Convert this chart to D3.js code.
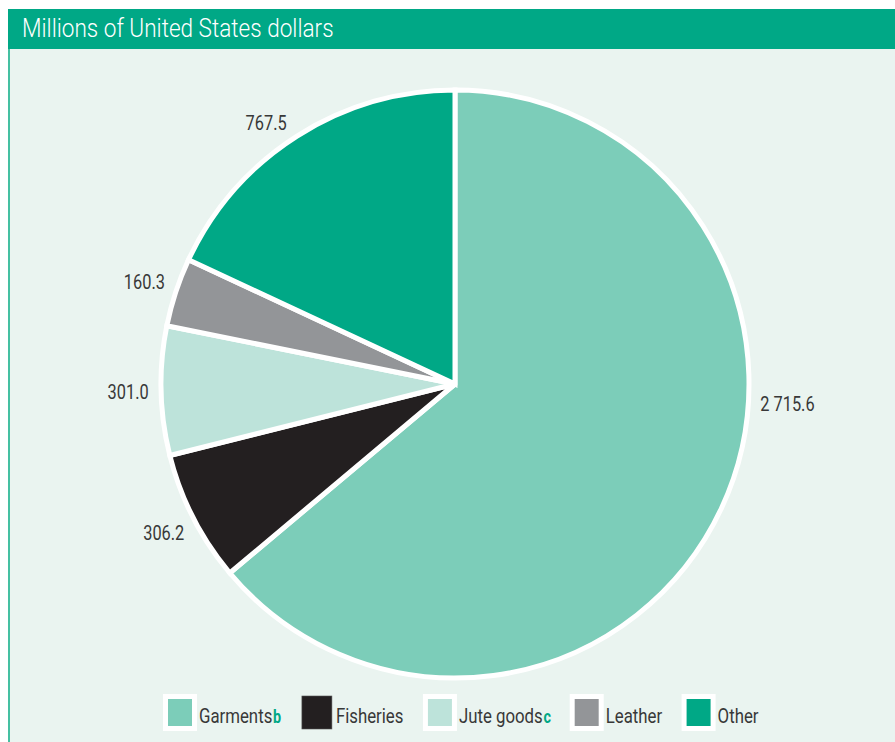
<!DOCTYPE html>
<html>
<head>
<meta charset="utf-8">
<script src="https://cdn.jsdelivr.net/npm/d3@7"></script>
<style>
  html, body { margin: 0; padding: 0; background: #ffffff; }
  svg { display: block; }
  text { font-family: Roboto, "Liberation Sans", sans-serif; }
</style>
</head>
<body>
<svg id="chart" width="895" height="742"></svg>
<script>
// Export values by product group (millions of US dollars)
const categories = ["Garments", "Fisheries", "Jute goods", "Leather", "Other"];
const values = [2715.6, 306.2, 301.0, 160.3, 767.5];
const notes = ["b", "", "c", "", ""];
const colors = ["#7ccdb9", "#231f20", "#bde3da", "#939598", "#00a886"];
const title = "Millions of United States dollars";

const W = 895, H = 742;
const svg = d3.select("#chart");
const textColor = "#383838";
const accent = "#00a886";

// panel background and frame
svg.append("rect").attr("x", 8).attr("y", 9).attr("width", W - 8).attr("height", H - 9)
  .attr("fill", "#eaf4f0");
svg.append("rect").attr("x", 8).attr("y", 49).attr("width", 2).attr("height", H - 49)
  .attr("fill", "#45c0a2");

// title bar
svg.append("rect").attr("x", 8).attr("y", 9).attr("width", W - 8).attr("height", 40)
  .attr("fill", accent);
svg.append("g").attr("transform", "translate(22,37) scale(0.885,1)")
  .append("text")
  .attr("font-size", 25.5).attr("font-weight", 300).attr("fill", "#ffffff")
  .text(title);

// pie
const cx = 455, cy = 384, R = 294;
const pie = d3.pie().sort(null).value(d => d);
const arcs = pie(values);
const arc = d3.arc().innerRadius(0).outerRadius(R);

const g = svg.append("g").attr("transform", `translate(${cx},${cy})`);
g.selectAll("path.slice")
  .data(arcs)
  .join("path")
  .attr("class", "slice")
  .attr("d", arc)
  .attr("fill", (d, i) => colors[i])
  .attr("stroke", "#ffffff")
  .attr("stroke-width", 5)
  .attr("stroke-linejoin", "miter");

// value labels, placed just outside the rim
const fmt = d3.formatLocale({ decimal: ".", thousands: " ", grouping: [3], currency: ["", ""] })
  .format(",.1f");
const labelR = 327;
const labelShift = {
  "Garments": { da: -21.6, dr: 6 },
  "Other": { da: -3.4, dr: -5 }
};
g.selectAll("g.value")
  .data(arcs)
  .join("g")
  .attr("class", "value")
  .attr("transform", (d, i) => {
    const s = labelShift[categories[i]] || { da: 0, dr: 0 };
    const a = (d.startAngle + d.endAngle) / 2 + s.da * Math.PI / 180;
    const r = labelR + s.dr;
    return `translate(${r * Math.sin(a)},${-r * Math.cos(a)}) scale(0.84,1)`;
  })
  .append("text")
  .attr("text-anchor", "middle")
  .attr("dy", "0.36em")
  .attr("font-size", 19.5)
  .attr("fill", textColor)
  .text(d => fmt(d.value));

// legend
const legend = svg.append("g");
const legendSqueeze = 0.8;
let lx = 163;
const boxTop = 694, baseY = 723;
categories.forEach((name, i) => {
  const item = legend.append("g");
  if (colors[i] === "#231f20") {
    item.append("rect").attr("x", lx + 2).attr("y", boxTop + 2).attr("width", 30).attr("height", 33)
      .attr("fill", colors[i]).attr("stroke", "#555555").attr("stroke-width", 0.6);
  } else {
    item.append("rect").attr("x", lx).attr("y", boxTop).attr("width", 34).attr("height", 37)
      .attr("fill", "#ffffff");
    item.append("rect").attr("x", lx + 5).attr("y", boxTop + 5).attr("width", 24).attr("height", 27)
      .attr("fill", colors[i]);
  }
  const tg = item.append("g").attr("transform", `translate(${lx + 36},${baseY}) scale(${legendSqueeze},1)`);
  const t = tg.append("text").attr("font-size", 21).attr("fill", textColor);
  t.append("tspan").text(name);
  if (notes[i]) {
    t.append("tspan").attr("font-size", 18).attr("font-weight", 700).attr("fill", accent)
      .attr("dx", 1).text(notes[i]);
  }
  const w = t.node().getComputedTextLength() * legendSqueeze;
  lx += 36 + w + 19.5;
});
</script>
</body>
</html>
